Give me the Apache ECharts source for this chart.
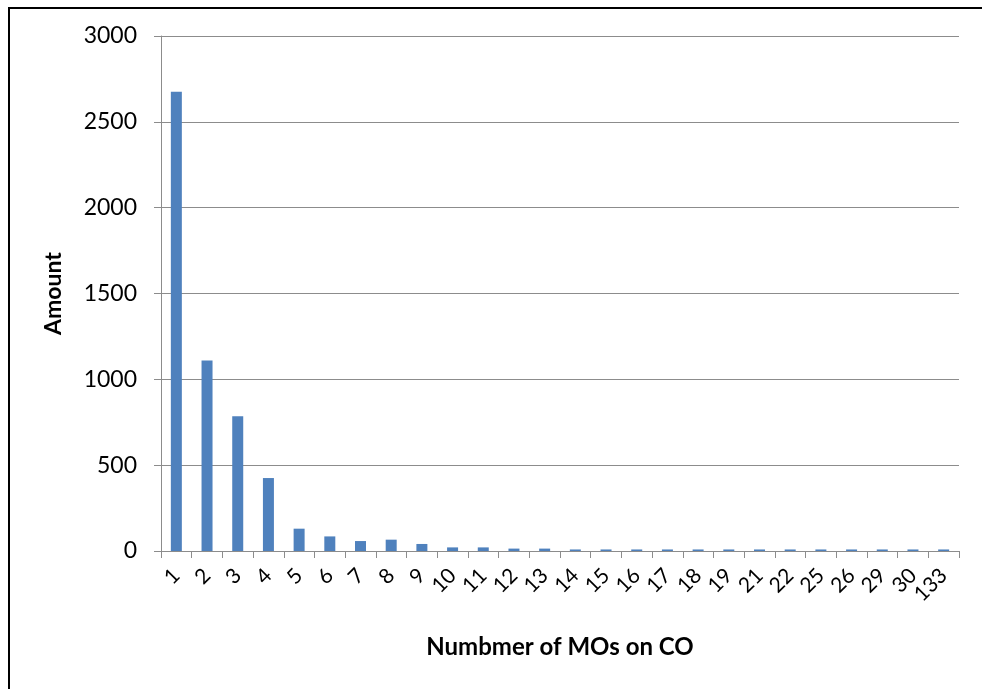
<!DOCTYPE html>
<html>
<head>
<meta charset="utf-8">
<script src="https://cdn.jsdelivr.net/npm/echarts@6/dist/echarts.min.js"></script>
<style>
  html, body { margin: 0; padding: 0; background: #fff; }
  #chart { width: 982px; height: 689px; }
</style>
</head>
<body>
<div id="chart"></div>
<script>
// Number of MOs per CO and how many COs have that count
const categories = ['1','2','3','4','5','6','7','8','9','10','11','12','13','14','15','16','17','18','19','21','22','25','26','29','30','133'];
const amounts = [2675, 1110, 785, 425, 130, 85, 58, 66, 41, 21, 21, 14, 14, 9, 9, 9, 9, 9, 9, 9, 9, 9, 9, 9, 9, 9];
const yTicks = [0, 500, 1000, 1500, 2000, 2500, 3000];

const FONT = 'Lato, "Open Sans", sans-serif';
const chart = echarts.init(document.getElementById('chart'));
chart.setOption({
  animation: false,
  backgroundColor: '#ffffff',
  graphic: [{
    type: 'rect',
    shape: { x: 9, y: 8, width: 1100, height: 1000 },
    style: { fill: 'none', stroke: '#000', lineWidth: 2 },
    silent: true
  }],
  grid: { left: 161, right: 23, top: 36, bottom: 138 },
  xAxis: {
    type: 'category',
    data: categories,
    name: 'Numbmer of MOs on CO',
    nameLocation: 'middle',
    nameGap: 84,
    nameTextStyle: { fontFamily: FONT, fontSize: 24, fontWeight: 'bold', color: '#000' },
    axisLine: { lineStyle: { color: '#8c8c8c', width: 1 } },
    axisTick: { show: true, alignWithLabel: false, length: 7, lineStyle: { color: '#8c8c8c' } },
    axisLabel: { rotate: 45, interval: 0, margin: 21, fontFamily: FONT, fontSize: 21, color: '#000' }
  },
  yAxis: {
    type: 'value',
    min: yTicks[0],
    max: yTicks[yTicks.length - 1],
    interval: yTicks[1] - yTicks[0],
    name: 'Amount',
    nameLocation: 'middle',
    nameGap: 96,
    nameRotate: 90,
    nameTextStyle: { fontFamily: FONT, fontSize: 23, fontWeight: 'bold', color: '#000' },
    axisLine: { show: true, lineStyle: { color: '#8c8c8c', width: 1 } },
    axisTick: { show: true, length: 7, lineStyle: { color: '#8c8c8c' } },
    axisLabel: { margin: 24, fontFamily: FONT, fontSize: 23, color: '#000', formatter: v => String(v) },
    splitLine: { lineStyle: { color: '#8c8c8c', width: 1 } }
  },
  series: [{
    type: 'bar',
    data: amounts,
    barWidth: 11,
    itemStyle: { color: '#4f81bd' }
  }]
});
</script>
</body>
</html>
